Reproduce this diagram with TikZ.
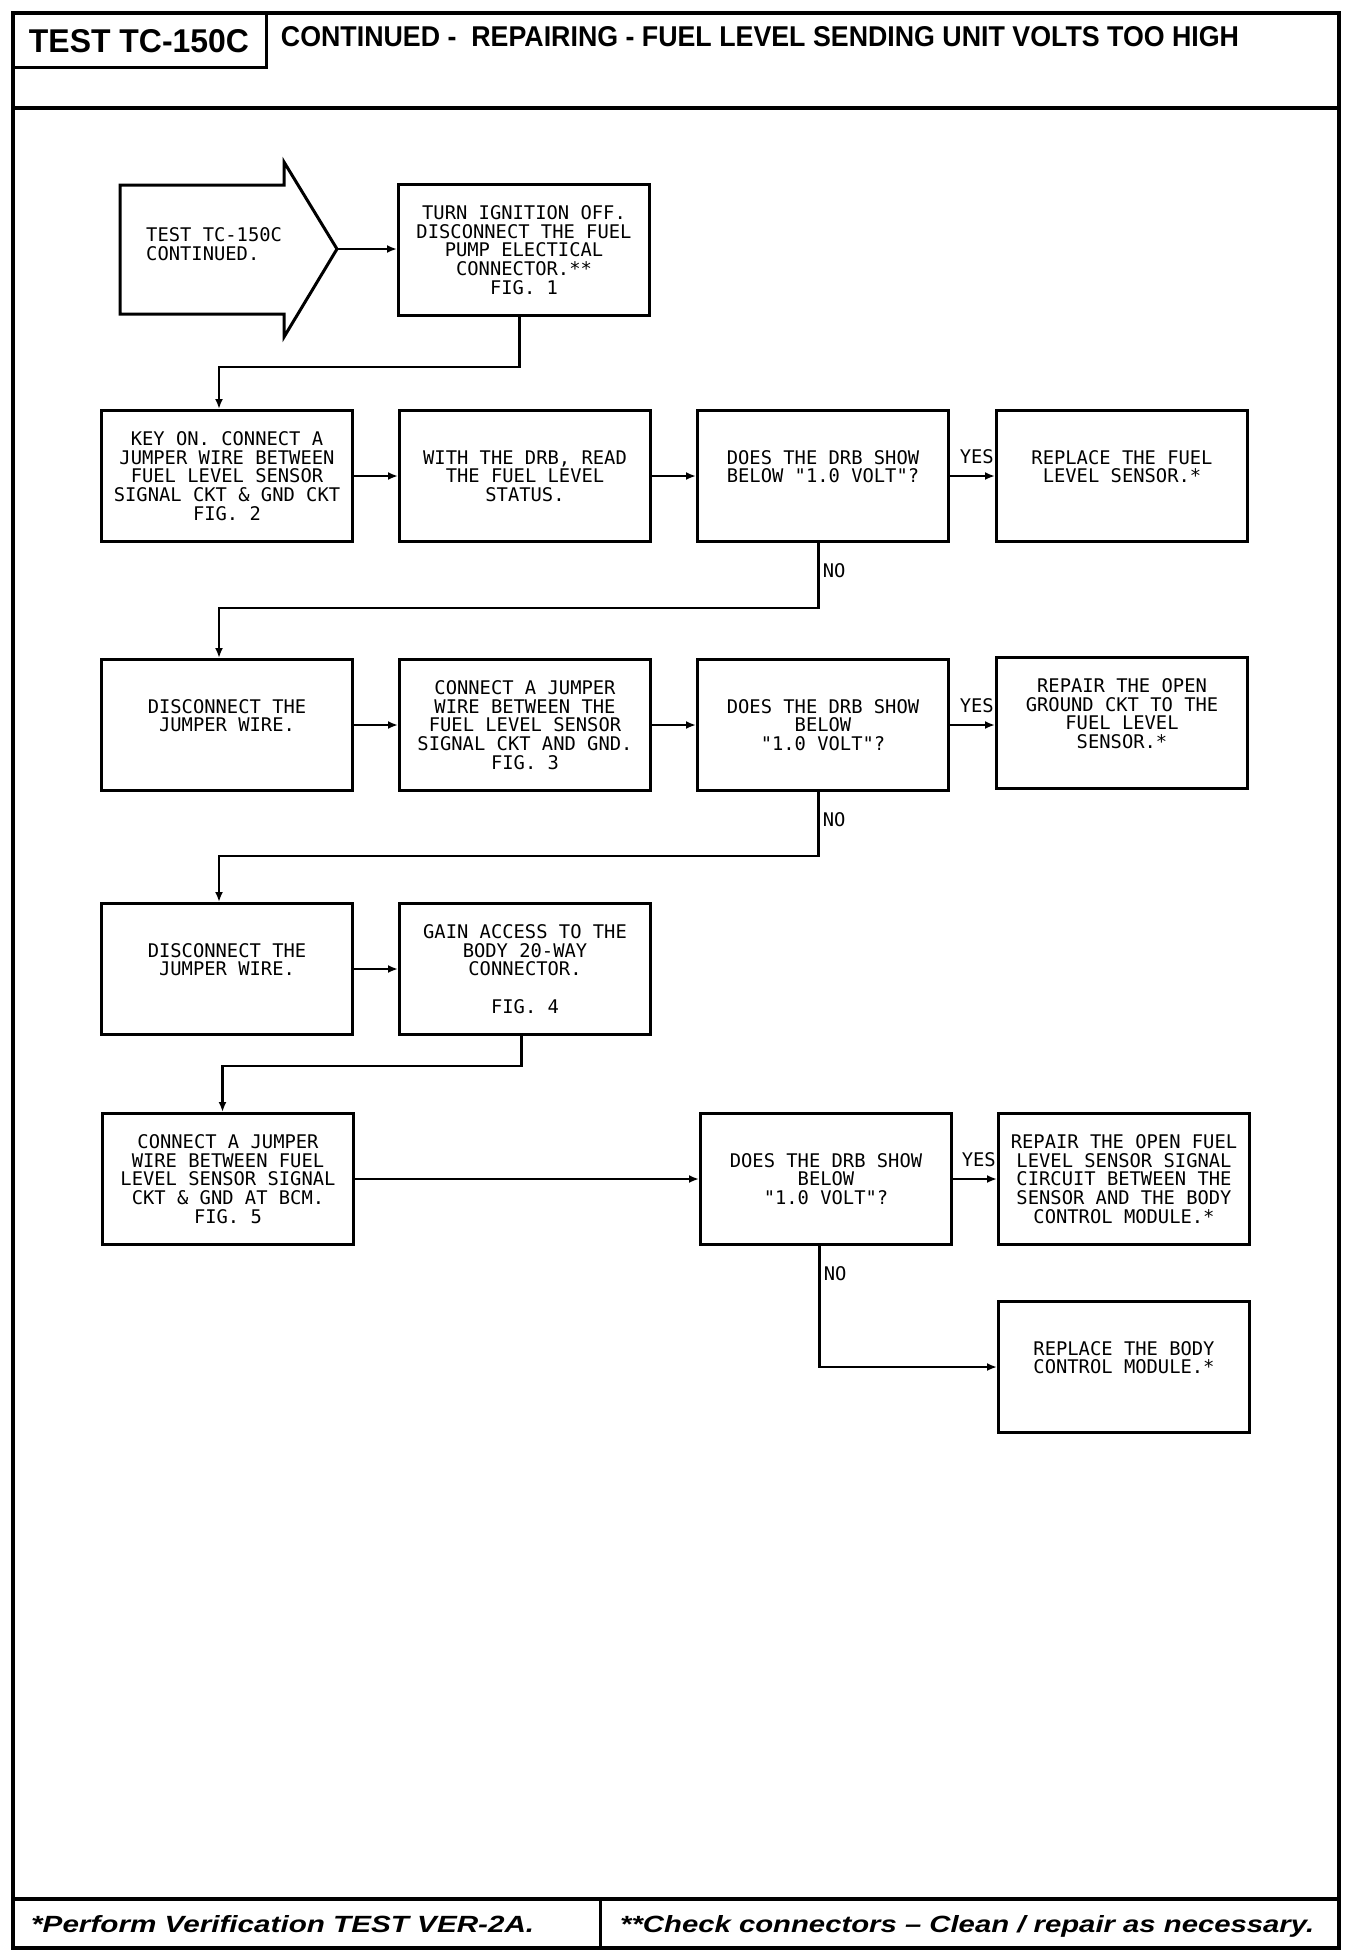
\documentclass[tikz,border=0pt]{standalone}
\usepackage{fontspec}
\usepackage{graphicx}
\setmainfont{Liberation Sans}
\newfontfamily\boxfont{DejaVu Sans Mono}
\usetikzlibrary{arrows.meta}
\begin{document}
\begin{tikzpicture}[x=1pt,y=-1pt,
  stepbox/.style={draw, line width=3pt, minimum width=251pt, minimum height=131pt,
    inner sep=0pt, anchor=north west, align=center,
    font=\boxfont\fontsize{18.8}{18.7}\selectfont},
  conn/.style={line width=2.6pt, -{Latex[length=10pt,width=8pt]}},
  lbl/.style={font=\boxfont\fontsize{18.8}{18.7}\selectfont, inner sep=1pt},
  frameline/.style={line width=4pt},
]
\fill[white] (0,0) rectangle (1360,1956);
\useasboundingbox (0,0) rectangle (1360,1956);

% frame
\draw[frameline] (13,13) rectangle (1339,1948);
\draw[line width=3pt] (13,13) rectangle (266,68);
\draw[frameline] (13,108) -- (1339,108);
\draw[frameline] (13,1899) -- (1339,1899);
\draw[line width=3pt] (600,1899) -- (600,1948);

% titles
\node[inner sep=0pt] (ttl) at (139,41) {\resizebox{220pt}{23pt}{\bfseries TEST TC-150C}};
\node[inner sep=0pt] (head) at (760,37) {\resizebox{958pt}{20pt}{\bfseries CONTINUED -\ \ REPAIRING - FUEL LEVEL SENDING UNIT VOLTS TOO HIGH}};
\node[inner sep=0pt, anchor=base west] (foot1) at (31,1932) {\resizebox{503pt}{17pt}{\bfseries\itshape *Perform Verification TEST VER-2A.}};
\node[inner sep=0pt, anchor=base west] (foot2) at (620,1932) {\resizebox{694pt}{17pt}{\bfseries\itshape **Check connectors – Clean / repair as necessary.}};

% start arrow
\draw[line width=3pt, line join=miter] (120,185) -- (284,185) -- (284,162) -- (337,249) -- (284,337) -- (284,314) -- (120,314) -- cycle;
\coordinate (tip) at (337,249);
\node[lbl, anchor=west, align=left] (start) at (145,244) {TEST TC-150C\\CONTINUED.};

% boxes
\node[stepbox] (b1) at (397,183) {TURN IGNITION OFF.\\DISCONNECT THE FUEL\\PUMP ELECTICAL\\CONNECTOR.**\\FIG. 1};

\node[stepbox] (b2) at (100,409) {KEY ON. CONNECT A\\JUMPER WIRE BETWEEN\\FUEL LEVEL SENSOR\\SIGNAL CKT \& GND CKT\\FIG. 2};
\node[stepbox] (b3) at (398,409) {WITH THE DRB, READ\\THE FUEL LEVEL\\STATUS.};
\node[stepbox] (b4) at (696,409) {DOES THE DRB SHOW\\BELOW "1.0 VOLT"?\\\mbox{}};
\node[stepbox] (b5) at (995,409) {REPLACE THE FUEL\\LEVEL SENSOR.*\\\mbox{}};

\node[stepbox] (b6) at (100,658) {DISCONNECT THE\\JUMPER WIRE.\\\mbox{}};
\node[stepbox] (b7) at (398,658) {CONNECT A JUMPER\\WIRE BETWEEN THE\\FUEL LEVEL SENSOR\\SIGNAL CKT AND GND.\\FIG. 3};
\node[stepbox] (b8) at (696,658) {DOES THE DRB SHOW\\BELOW\\"1.0 VOLT"?};
\node[stepbox] (b9) at (995,656) {REPAIR THE OPEN\\GROUND CKT TO THE\\FUEL LEVEL\\SENSOR.*\\\mbox{}};

\node[stepbox] (b10) at (100,902) {DISCONNECT THE\\JUMPER WIRE.\\\mbox{}};
\node[stepbox] (b11) at (398,902) {GAIN ACCESS TO THE\\BODY 20-WAY\\CONNECTOR.\\\mbox{}\\FIG. 4};

\node[stepbox] (b12) at (101,1112) {CONNECT A JUMPER\\WIRE BETWEEN FUEL\\LEVEL SENSOR SIGNAL\\CKT \& GND AT BCM.\\FIG. 5};
\node[stepbox] (b13) at (699,1112) {DOES THE DRB SHOW\\BELOW\\"1.0 VOLT"?};
\node[stepbox] (b14) at (997,1112) {REPAIR THE OPEN FUEL\\LEVEL SENSOR SIGNAL\\CIRCUIT BETWEEN THE\\SENSOR AND THE BODY\\CONTROL MODULE.*};
\node[stepbox] (b15) at (997,1300) {REPLACE THE BODY\\CONTROL MODULE.*\\\mbox{}};

% connectors
\draw[conn] (tip) -- (tip -| b1.west);
\draw[conn] ([xshift=-4.5pt]b1.south) -- ++(0,50) -| ([xshift=-8pt]b2.north);

\draw[conn] (b2.east) -- (b3.west);
\draw[conn] (b3.east) -- (b4.west);
\draw[conn] (b4.east) -- (b5.west);
\node[lbl, anchor=south east, yshift=11pt] (yes1) at (b5.west) {YES};
\draw[conn] ([xshift=-4.5pt]b4.south) -- ++(0,28) node[lbl, anchor=west, xshift=2pt] (no1) {NO} -- ++(0,37) -| ([xshift=-8pt]b6.north);

\draw[conn] (b6.east) -- (b7.west);
\draw[conn] (b7.east) -- (b8.west);
\draw[conn] (b8.east) -- (b8.east -| b9.west);
\node[lbl, anchor=south east, yshift=11pt] (yes2) at (b8.east -| b9.west) {YES};
\draw[conn] ([xshift=-4.5pt]b8.south) -- ++(0,28) node[lbl, anchor=west, xshift=2pt] (no2) {NO} -- ++(0,36) -| ([xshift=-8pt]b10.north);

\draw[conn] (b10.east) -- (b11.west);
\draw[conn] ([xshift=-3.5pt]b11.south) -- ++(0,30) -| ([xshift=-5.5pt]b12.north);

\draw[conn] (b12.east) -- (b13.west);
\draw[conn] (b13.east) -- (b14.west);
\node[lbl, anchor=south east, yshift=11pt] (yes3) at (b14.west) {YES};
\draw[conn] ([xshift=-6.5pt]b13.south) -- ++(0,28) node[lbl, anchor=west, xshift=2pt] (no3) {NO} |- (b15.west);
\end{tikzpicture}
\end{document}
